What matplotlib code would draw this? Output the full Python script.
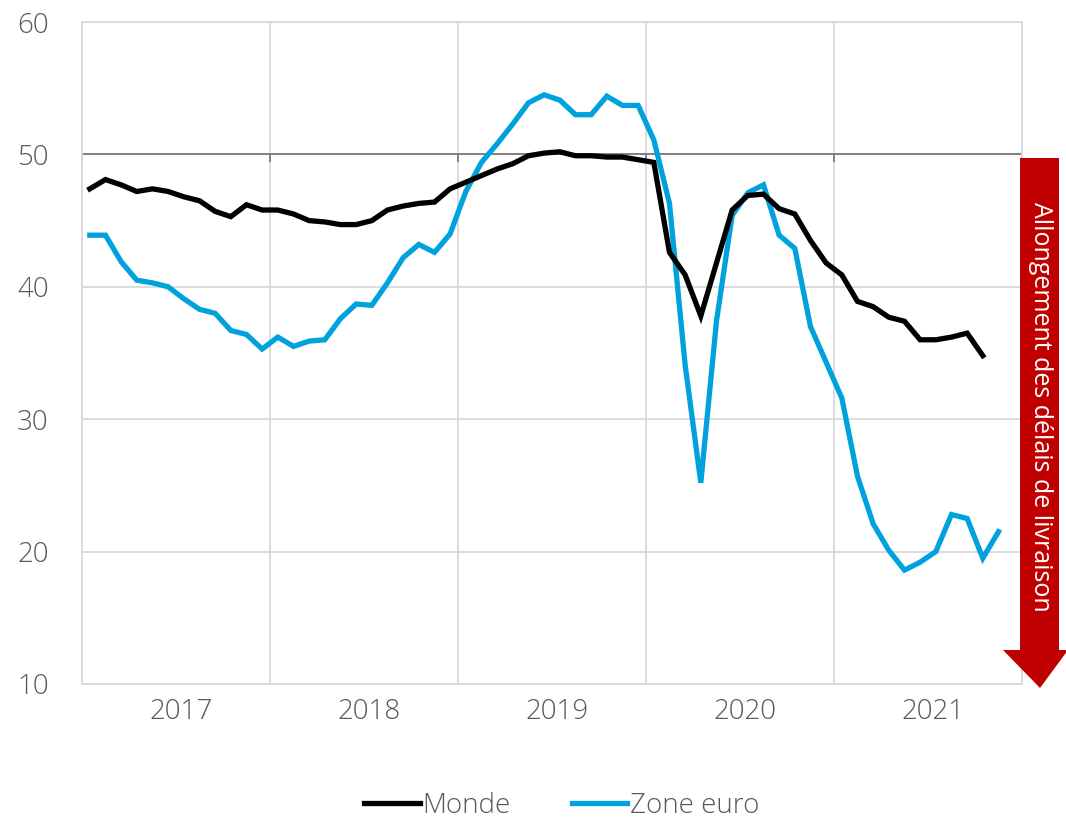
import matplotlib
matplotlib.use("Agg")
import matplotlib.pyplot as plt
from matplotlib.patches import Polygon
from matplotlib.transforms import ScaledTranslation

# monthly values, Jan 2017 onwards
monde = [47.4, 48.1, 47.7, 47.2, 47.4, 47.2, 46.8, 46.5, 45.7, 45.3, 46.2, 45.8,
         45.8, 45.5, 45.0, 44.9, 44.7, 44.7, 45.0, 45.8, 46.1, 46.3, 46.4, 47.4,
         47.9, 48.4, 48.9, 49.3, 49.9, 50.1, 50.2, 49.9, 49.9, 49.8, 49.8, 49.6,
         49.4, 42.6, 40.9, 37.8, 41.8, 45.8, 46.9, 47.0, 45.9, 45.5, 43.5, 41.8,
         40.9, 38.9, 38.5, 37.7, 37.4, 36.0, 36.0, 36.2, 36.5, 34.8]
zone_euro = [43.9, 43.9, 41.9, 40.5, 40.3, 40.0, 39.1, 38.3, 38.0, 36.7, 36.4, 35.3,
             36.2, 35.5, 35.9, 36.0, 37.6, 38.7, 38.6, 40.3, 42.2, 43.2, 42.6, 44.0,
             47.2, 49.4, 50.8, 52.3, 53.9, 54.5, 54.1, 53.0, 53.0, 54.4, 53.7, 53.7,
             51.1, 46.3, 34.1, 25.2, 37.4, 45.4, 47.1, 47.7, 43.9, 42.9, 37.0, 34.3,
             31.6, 25.7, 22.1, 20.1, 18.6, 19.2, 20.0, 22.8, 22.5, 19.5, 21.5]
years = ["2017", "2018", "2019", "2020", "2021"]

plt.rcParams['font.family'] = ['Open Sans', 'DejaVu Sans']

fig = plt.figure(figsize=(10.66, 8.22), dpi=100)
ax = fig.add_axes([0.0769, 0.1679, 0.8818, 0.8053])

grey = '#d9d9d9'
ax.set_xlim(0, 60)
ax.set_ylim(10, 60)
ax.set_yticks(range(10, 61, 10))
ax.set_xticks(range(0, 61, 12))
ax.set_xticklabels([])
ax.set_xticks([6 + 12 * k for k in range(len(years))], minor=True)
ax.set_xticklabels(years, minor=True)
ax.tick_params(axis='both', which='both', length=0, labelsize=20, labelcolor='#595959')
ax.tick_params(axis='x', which='minor', pad=10)
ax.tick_params(axis='y', pad=24)
shift = ScaledTranslation(5 / 100, 0, fig.dpi_scale_trans)
for lab in ax.get_xticklabels(minor=True):
    lab.set_fontweight('light')
    lab.set_transform(lab.get_transform() + shift)
for lab in ax.get_yticklabels():
    lab.set_fontweight('light')
ax.grid(True, which='major', color=grey, lw=1.3)
for s in ax.spines.values():
    s.set_color(grey)
    s.set_linewidth(1.3)
ax.set_axisbelow(True)

# axis crossing at 50 with ticks
ax.axhline(50, color='#808080', lw=1.4, zorder=2)
ax.vlines(range(0, 61, 12), 49.4, 50, color='#808080', lw=1.4, zorder=2)

xm = [i + 0.5 for i in range(len(monde))]
xz = [i + 0.5 for i in range(len(zone_euro))]
ax.plot(xm, monde, color='black', lw=3.8, label='Monde', zorder=4,
        solid_joinstyle='miter')
ax.plot(xz, zone_euro, color='#00A2DE', lw=3.8, label='Zone euro', zorder=3,
        solid_joinstyle='miter')

leg = fig.legend(loc='center', bbox_to_anchor=(0.527, 0.02), ncol=2, frameon=False,
                 fontsize=20, handlelength=2.0, handletextpad=0.1, columnspacing=2.2)
for t in leg.get_texts():
    t.set_color('#595959')
    t.set_fontweight('light')

# red arrow on the right
W, H = 1066, 822
pts = [(1020, 158), (1059, 158), (1059, 650), (1068, 650), (1040, 688),
       (1003, 650), (1020, 650)]
arrow = Polygon([(x / W, 1 - y / H) for x, y in pts], closed=True,
                transform=fig.transFigure, facecolor='#C00000', edgecolor='none',
                zorder=5)
fig.patches.append(arrow)
fig.text(1040 / W, 1 - 407 / H, 'Allongement des délais de livraison', rotation=-90,
         color='white', fontsize=18, ha='center', va='center', zorder=6)

plt.savefig('out.png', dpi=100)
